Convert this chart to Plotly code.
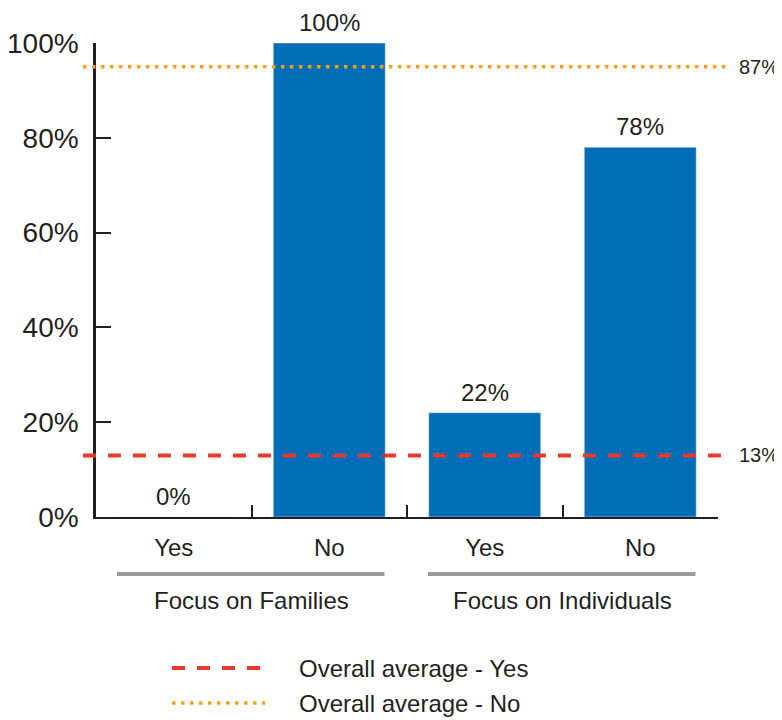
import plotly.graph_objects as go

# data
categories = ["Yes", "No", "Yes", "No"]
groups = ["Focus on Families", "Focus on Individuals"]
group_size = 2
values = [0, 100, 22, 78]
avg_yes = 13
avg_no_label = 87
avg_no_drawn = 95  # the dotted line sits near 95% in the original, though labelled 87%
y_ticks = [0, 20, 40, 60, 80, 100]

BLUE = "#006DB6"
RED = "#E8392C"
ORANGE = "#F7A11A"
GREY = "#9A9A9A"
TXT = "#231F20"
FONT = "Liberation Sans"

x = list(range(len(categories)))

fig = go.Figure()
fig.add_trace(go.Bar(
    x=x,
    y=values,
    width=0.72,
    marker_color=BLUE,
    showlegend=False,
    hoverinfo="skip"
))

annotations = []
shapes = []

# value labels above bars
for i, v in zip(x, values):
    annotations.append(dict(
        x=i, y=v, text=f"{v}%", showarrow=False,
        yanchor="bottom", yshift=5,
        font=dict(size=24, color=TXT)
    ))

# group labels and grey bracket lines
for g, name in enumerate(groups):
    center = g * group_size + (group_size - 1) / 2
    annotations.append(dict(
        x=center, xref="x", y=0, yref="paper", text=name,
        showarrow=False, yanchor="middle", yshift=-83,
        font=dict(size=24, color=TXT)
    ))
    shapes.append(dict(
        type="line", xref="x", yref="paper",
        x0=center - 0.865, x1=center + 0.855,
        ysizemode="pixel", yanchor=0, y0=-57, y1=-57,
        line=dict(color=GREY, width=4)
    ))

# overall average lines
shapes.append(dict(
    type="line", xref="paper", yref="y",
    x0=-0.021, x1=1.015, y0=avg_yes, y1=avg_yes,
    line=dict(color=RED, width=4, dash="13px,12px")
))
shapes.append(dict(
    type="line", xref="paper", yref="y",
    x0=-0.021, x1=1.015, y0=avg_no_drawn, y1=avg_no_drawn,
    line=dict(color=ORANGE, width=3.5, dash="3.5px,5.5px")
))
annotations.append(dict(
    x=1.03, xref="paper", y=avg_yes, yref="y", text=f"{avg_yes}%",
    showarrow=False, xanchor="left", font=dict(size=20, color=TXT)
))
annotations.append(dict(
    x=1.03, xref="paper", y=avg_no_drawn, yref="y", text=f"{avg_no_label}%",
    showarrow=False, xanchor="left", font=dict(size=20, color=TXT)
))

# hand-made legend under the chart
legend_items = [("Overall average - Yes", RED, 4, "13px,12px", -151),
                ("Overall average - No", ORANGE, 3.5, "3.5px,5.5px", -186)]
for label, color, w, dash, dy in legend_items:
    shapes.append(dict(
        type="line", xref="paper", yref="paper",
        xsizemode="pixel", xanchor=0, x0=76, x1=169,
        ysizemode="pixel", yanchor=0, y0=dy, y1=dy,
        line=dict(color=color, width=w, dash=dash)
    ))
    annotations.append(dict(
        x=0, xref="paper", y=0, yref="paper", text=label,
        showarrow=False, xanchor="left", yanchor="middle",
        xshift=201, yshift=dy,
        font=dict(size=24, color=TXT)
    ))

# the page body adds an 8px margin, so the figure is 8px smaller
fig.update_layout(
    width=774,
    height=712,
    margin=dict(l=88, r=64, t=35, b=203),
    plot_bgcolor="white",
    paper_bgcolor="white",
    font=dict(family=FONT, color=TXT),
    bargap=0.28,
    annotations=annotations,
    shapes=shapes,
    xaxis=dict(
        range=[-0.5, len(categories) - 0.5],
        tickmode="array",
        tickvals=x,
        ticktext=categories,
        ticks="",
        showline=True,
        linecolor=TXT,
        linewidth=2,
        showgrid=False,
        zeroline=False,
        automargin=False,
        tickfont=dict(size=24, color=TXT),
        ticklabelstandoff=8,
        minor=dict(
            tickmode="array",
            tickvals=[i + 0.5 for i in x[:-1]],
            ticks="inside",
            ticklen=12,
            tickwidth=2,
            tickcolor=TXT
        )
    ),
    yaxis=dict(
        range=[0, 100],
        tickmode="array",
        tickvals=y_ticks,
        ticktext=[f"{t}%" for t in y_ticks],
        ticks="inside",
        ticklen=15,
        tickwidth=2,
        tickcolor=TXT,
        showline=True,
        linecolor=TXT,
        linewidth=2.5,
        showgrid=False,
        zeroline=False,
        automargin=False,
        tickfont=dict(size=28, color=TXT),
        ticklabelstandoff=9
    )
)

fig.write_html("out.html")
